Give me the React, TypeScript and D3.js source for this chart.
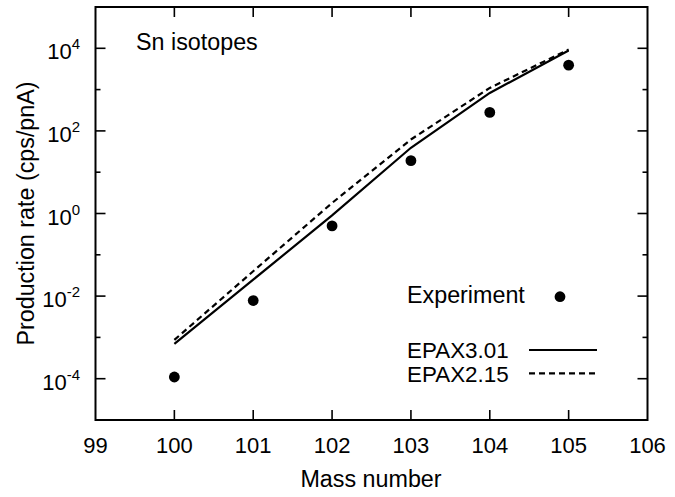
import React from "react";
import * as d3 from "d3";

const massNumbers = [100, 101, 102, 103, 104, 105];
const experiment = [1.1e-4, 7.8e-3, 0.5, 19, 280, 3900];
const epax301 = [7e-4, 0.025, 0.9, 39, 830, 8800];
const epax215 = [8.7e-4, 0.04, 1.8, 62, 1100, 9300];
const xTicks = [99, 100, 101, 102, 103, 104, 105, 106];
const yMajorExp = [-4, -2, 0, 2, 4];
const yMinorExp = [-3, -1, 1, 3];

const W = 675;
const H = 497;
const L = 95.5, R = 647.5, T = 7, B = 420;
const FONT = "'Liberation Sans', Arial, Helvetica, sans-serif";
const FS = 22;
const LFS = 23.3;
const KFS = 22.4;

export default function App() {
  const x = d3.scaleLinear().domain([99, 106]).range([L, R]);
  const y = d3.scaleLog().domain([1e-5, 1e5]).range([B, T]);
  const line = d3
    .line<number>()
    .x((_, i) => x(massNumbers[i]))
    .y((d) => y(d));

  return (
    <svg
      width={W}
      height={H}
      style={{ position: "absolute", left: 0, top: 0, background: "#fff" }}
      fontFamily={FONT}
    >
      <rect x={0} y={0} width={W} height={H} fill="#fff" />
      {xTicks.map((t) => (
        <g key={"x" + t}>
          {t !== 99 && t !== 106 && (
            <>
              <line x1={x(t)} x2={x(t)} y1={B} y2={B - 10} stroke="#000" strokeWidth={1.6} />
              <line x1={x(t)} x2={x(t)} y1={T} y2={T + 10} stroke="#000" strokeWidth={1.6} />
            </>
          )}
          <text x={x(t)} y={B + 33} textAnchor="middle" fontSize={FS} fill="#000">
            {t}
          </text>
        </g>
      ))}
      {yMajorExp.map((e) => {
        const yy = y(Math.pow(10, e));
        return (
          <g key={"ym" + e}>
            <line x1={L} x2={L + 10} y1={yy} y2={yy} stroke="#000" strokeWidth={1.6} />
            <line x1={R} x2={R - 10} y1={yy} y2={yy} stroke="#000" strokeWidth={1.6} />
            <text x={80} y={yy + 11} textAnchor="end" fontSize={FS} fill="#000">
              10
              <tspan dy={-10} fontSize={15}>
                {e}
              </tspan>
            </text>
          </g>
        );
      })}
      {yMinorExp.map((e) => {
        const yy = y(Math.pow(10, e));
        return (
          <g key={"yn" + e}>
            <line x1={L} x2={L + 5} y1={yy} y2={yy} stroke="#000" strokeWidth={1.6} />
            <line x1={R} x2={R - 5} y1={yy} y2={yy} stroke="#000" strokeWidth={1.6} />
          </g>
        );
      })}
      <rect x={L} y={T} width={R - L} height={B - T} fill="none" stroke="#000" strokeWidth={2} />
      <path d={line(epax301) || ""} fill="none" stroke="#000" strokeWidth={2.2} />
      <path d={line(epax215) || ""} fill="none" stroke="#000" strokeWidth={2.2} strokeDasharray="6,4" />
      {experiment.map((v, i) => (
        <circle key={"e" + i} cx={x(massNumbers[i])} cy={y(v)} r={5.4} fill="#000" />
      ))}
      <text x={136} y={50} fontSize={LFS} fill="#000">
        Sn isotopes
      </text>
      <text x={371} y={487} textAnchor="middle" fontSize={LFS} fill="#000">
        Mass number
      </text>
      <text
        transform={`translate(34,${(80 + 347) / 2}) rotate(-90)`}
        textAnchor="middle"
        fontSize={LFS}
        fill="#000"
      >
        Production rate (cps/pnA)
      </text>
      <text x={407} y={303} fontSize={LFS} fill="#000">Experiment</text>
      <circle cx={560} cy={296.7} r={5.4} fill="#000" />
      <text x={407} y={358} fontSize={KFS} fill="#000">EPAX3.01</text>
      <line x1={529} x2={597} y1={350} y2={350} stroke="#000" strokeWidth={2.2} />
      <text x={407} y={381.5} fontSize={KFS} fill="#000">EPAX2.15</text>
      <line x1={529} x2={597} y1={373.3} y2={373.3} stroke="#000" strokeWidth={2.2} strokeDasharray="6,4" />
    </svg>
  );
}
